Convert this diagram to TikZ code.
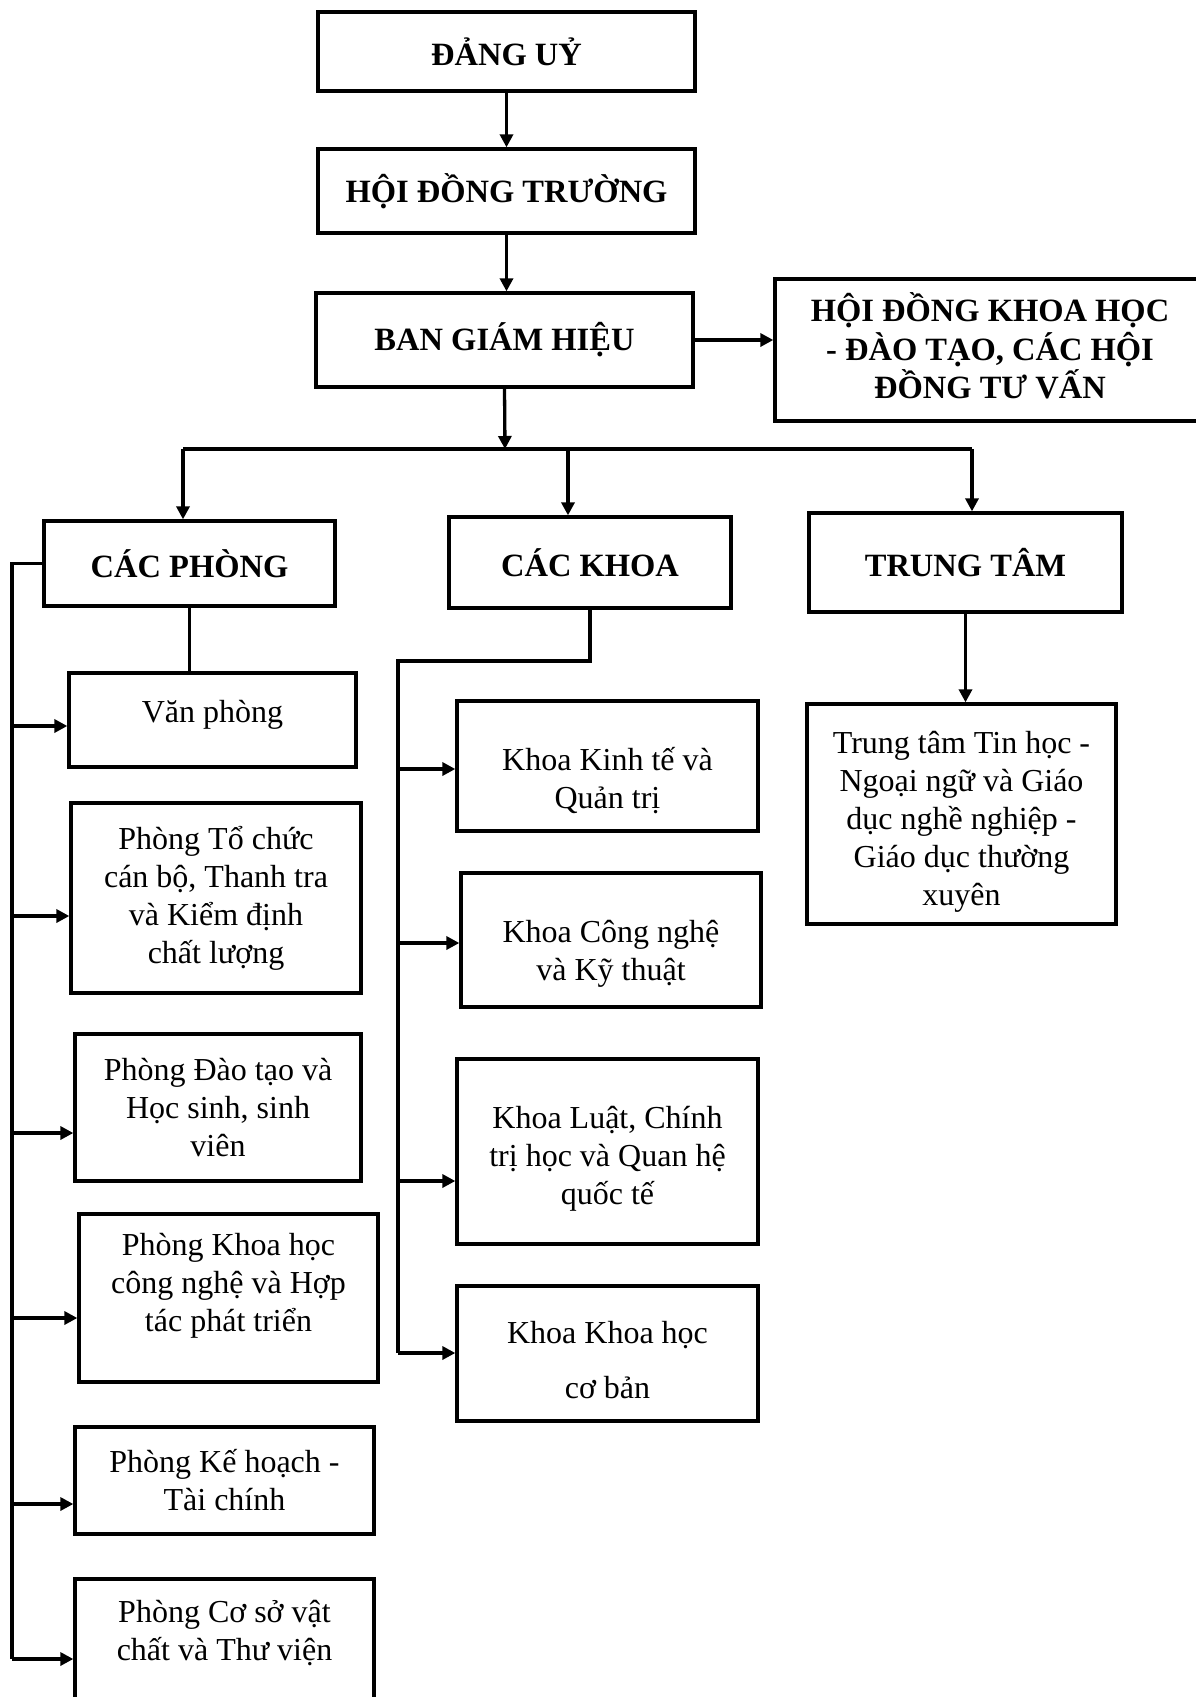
\documentclass[tikz,border=0pt]{standalone}
\usepackage{fontspec}
\setmainfont{Liberation Serif}
\usepackage{tikz}
\usetikzlibrary{arrows.meta}

\tikzset{
  box/.style={draw, line width=3.3pt, align=center, inner sep=0pt},
  head/.style={box, font=\bfseries\fontsize{32.5}{38.5}\selectfont},
  unit/.style={box, font=\fontsize{32}{38}\selectfont},
}

\begin{document}
\begin{tikzpicture}[x=1pt, y=-1pt, line width=3.3pt, ->, >={Triangle[length=13pt,width=13pt]}]
\useasboundingbox (0,0) rectangle (1195,1697);

\node[head, minimum width=377pt, minimum height=79pt] (n0) at (506.5,51.5) {ĐẢNG UỶ};
\node[head, minimum width=377pt, minimum height=84pt] (n1) at (506.5,191) {HỘI ĐỒNG TRƯỜNG};
\node[head, minimum width=377pt, minimum height=94pt] (n2) at (504.5,340) {BAN GIÁM HIỆU};
\node[head, minimum width=430pt, minimum height=142pt] (n3) at (990,350) {HỘI ĐỒNG KHOA HỌC\\- ĐÀO TẠO, CÁC HỘI\\ĐỒNG TƯ VẤN\rule[-8pt]{0pt}{8pt}};

\node[head, minimum width=291pt, minimum height=85pt] (p0) at (189.5,563.5) {CÁC PHÒNG};
\node[head, minimum width=282pt, minimum height=91pt] (k0) at (590,562.5) {CÁC KHOA};
\node[head, minimum width=313pt, minimum height=99pt] (t0) at (965.5,562.5) {TRUNG TÂM};

\node[unit, minimum width=287pt, minimum height=94pt] (p1) at (212.5,720) {Văn phòng\rule[-18pt]{0pt}{18pt}};
\node[unit, minimum width=290pt, minimum height=190pt] (p2) at (216,898) {Phòng Tổ chức\\cán bộ, Thanh tra\\và Kiểm định\\chất lượng};
\node[unit, minimum width=286pt, minimum height=147pt] (p3) at (218,1107.5) {Phòng Đào tạo và\\Học sinh, sinh\\viên};
\node[unit, minimum width=299pt, minimum height=168pt] (p4) at (228.5,1298) {Phòng Khoa học\\công nghệ và Hợp\\tác phát triển\rule[-31pt]{0pt}{31pt}};
\node[unit, minimum width=299pt, minimum height=107pt] (p5) at (224.5,1480.5) {Phòng Kế hoạch -\\Tài chính};
\node[unit, minimum width=299pt, minimum height=140pt] (p6) at (224.5,1649) {Phòng Cơ sở vật\\chất và Thư viện\\\mbox{}};

\node[unit, minimum width=301pt, minimum height=130pt] (k1) at (607.5,766) {\rule{0pt}{53pt}Khoa Kinh tế và\\Quản trị};
\node[unit, minimum width=300pt, minimum height=134pt] (k2) at (611,940) {\rule{0pt}{49pt}Khoa Công nghệ\\và Kỹ thuật};
\node[unit, minimum width=301pt, minimum height=185pt] (k3) at (607.5,1151.5) {\rule{0pt}{36pt}Khoa Luật, Chính\\trị học và Quan hệ\\quốc tế};
\node[unit, minimum width=301pt, minimum height=135pt] (k4) at (607.5,1353.5) {\rule{0pt}{35pt}Khoa Khoa học\\[17pt]cơ bản};

\node[unit, minimum width=309pt, minimum height=220pt] (t1) at (961.5,814) {\rule{0pt}{38pt}Trung tâm Tin học -\\Ngoại ngữ và Giáo\\dục nghề nghiệp -\\Giáo dục thường\\xuyên};

% top chain
\draw (n0) -- (n1);
\draw (n1.south) -- (n1.south |- n2.north);
\draw (n2.east) -- (n2.east -| n3.west);

% branches under the board
\coordinate (bus) at (505,449);
\coordinate (b0) at (183,449);
\coordinate (b1) at (568,449);
\coordinate (b2) at (972,449);
\draw (n2.south) -- (bus);
\draw[-] (b0) -- (b2);
\foreach \b/\n in {b0/p0, b1/k0, b2/t0}
  \draw (\b) -- (\b |- \n.north);

% offices
\draw[-] (p0.south) -- (p0.south |- p1.north);
\foreach \n/\y in {p1/726, p2/916, p3/1133, p4/1318, p5/1504, p6/1659} {
  \coordinate (a\n) at (12,\y);
  \draw (a\n) -- (a\n -| \n.west);
}
\draw[-] (p0.west) -| (ap6);

% faculties
\coordinate (kc) at (398,661);
\foreach \n/\y in {k1/769, k2/943, k3/1181, k4/1353} {
  \coordinate (a\n) at (398,\y);
  \draw (a\n) -- (a\n -| \n.west);
}
\draw[-] (k0.south) |- (kc) -- (ak4);

% centre
\draw (t0.south) -- (t0.south |- t1.north);
\end{tikzpicture}
\end{document}
